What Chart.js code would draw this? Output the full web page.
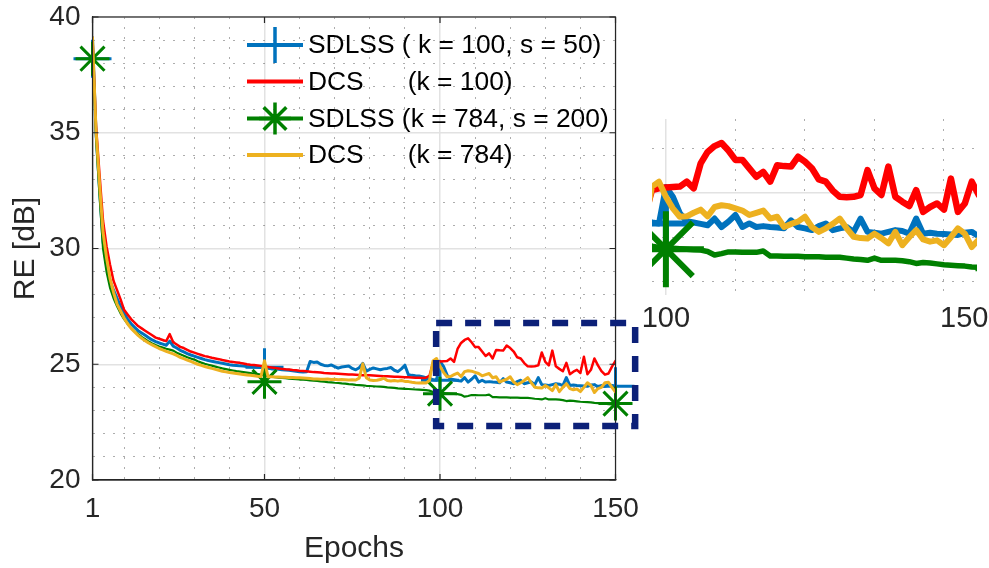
<!DOCTYPE html>
<html><head><meta charset="utf-8">
<script src="https://cdn.jsdelivr.net/npm/chart.js@4.4.1/dist/chart.umd.min.js"></script>
<style>
html,body{margin:0;padding:0;background:#fff;overflow:hidden;}
#wrap{position:relative;width:989px;height:568px;background:#fff;}
#main{position:absolute;left:0;top:0;}
#inset{position:absolute;left:640px;top:100px;}
#lbl150{position:absolute;left:940px;top:303px;font:29px "Liberation Sans",Arial,Helvetica,sans-serif;line-height:29px;color:#262626;}
</style></head><body>
<div id="wrap">
<canvas id="main" width="989" height="568"></canvas>
<canvas id="inset" width="349" height="240"></canvas>
<div id="lbl150">150</div>
</div>
<script>
// ---------------- DATA ----------------
const epochs = [1,2,3,4,5,6,7,8,9,10,11,12,13,14,15,16,17,18,19,20,21,22,23,24,25,26,27,28,29,30,31,32,33,34,35,36,37,38,39,40,41,42,43,44,45,46,47,48,49,50,51,52,53,54,55,56,57,58,59,60,61,62,63,64,65,66,67,68,69,70,71,72,73,74,75,76,77,78,79,80,81,82,83,84,85,86,87,88,89,90,91,92,93,94,95,96,97,98,99,100,101,102,103,104,105,106,107,108,109,110,111,112,113,114,115,116,117,118,119,120,121,122,123,124,125,126,127,128,129,130,131,132,133,134,135,136,137,138,139,140,141,142,143,144,145,146,147,148,149,150];

const seriesNames = ['SDLSS ( k = 100, s = 50)', 'DCS      (k = 100)', 'SDLSS (k = 784, s = 200)', 'DCS      (k = 784)'];

const sdlss100 = [39.1,35.0,32.6,30.3,29.3,28.6,28.2,27.85,27.5,27.2,26.95,26.75,26.6,26.45,26.35,26.25,26.15,26.05,25.98,25.92,25.87,25.82,26.0,25.78,25.7,25.6,25.53,25.46,25.4,25.35,25.3,25.25,25.2,25.16,25.13,25.1,25.07,25.04,25.01,24.98,24.96,24.95,24.93,24.92,24.9,24.89,24.88,24.87,24.86,24.85,24.83,24.8,24.79,24.78,24.76,24.75,24.74,24.72,24.7,24.68,24.67,24.68,25.12,25.08,25.1,25.0,24.95,24.93,24.97,24.9,24.83,24.88,24.9,24.92,24.82,24.76,24.85,25.04,24.7,24.78,24.84,24.8,24.76,24.8,24.82,24.86,24.74,24.68,24.8,24.96,24.55,24.52,24.5,24.49,24.46,24.42,24.4,24.33,24.31,25.13,24.91,24.54,24.36,24.33,24.3,24.27,24.42,24.23,24.35,24.5,24.23,24.31,24.23,24.25,24.23,24.22,24.2,24.38,24.23,24.2,24.16,24.25,24.31,24.16,24.2,24.23,24.12,24.42,24.12,24.1,24.08,24.12,24.16,24.14,24.08,24.42,24.08,24.1,24.08,24.07,24.06,24.05,24.1,24.12,24.02,24.08,24.05,24.1,24.08,24.05];

const dcs100 = [39.1,35.3,33.2,31.2,30.1,29.3,28.6,28.2,27.8,27.35,27.15,26.95,26.8,26.65,26.55,26.45,26.35,26.25,26.15,26.1,26.05,26.0,26.3,25.95,25.85,25.75,25.7,25.62,25.55,25.5,25.45,25.4,25.35,25.32,25.28,25.25,25.22,25.18,25.15,25.12,25.1,25.08,25.06,25.03,25.0,24.98,24.97,24.95,24.93,24.9,24.88,24.86,24.84,24.82,24.8,24.78,24.77,24.75,24.74,24.72,24.71,24.7,24.68,24.66,24.65,24.64,24.62,24.61,24.6,24.6,24.59,24.58,24.57,24.56,24.56,24.55,24.54,24.53,24.52,24.52,24.51,24.5,24.49,24.48,24.48,24.47,24.46,24.46,24.45,24.44,24.44,24.43,24.42,24.42,24.41,24.42,24.5,25.06,25.1,25.12,25.13,25.14,25.25,25.1,25.66,25.92,26.05,26.12,25.95,25.74,25.74,25.55,25.36,25.47,25.25,25.62,25.6,25.59,25.81,25.7,25.55,25.3,25.25,25.05,24.91,24.9,24.91,24.95,25.51,25.1,24.95,25.59,24.91,24.8,24.7,25.06,24.57,24.68,24.76,24.62,25.32,24.57,24.76,25.25,24.95,24.7,24.55,24.6,24.9,25.15];

const sdlss784 = [39.1,34.8,32.3,30.0,29.0,28.3,27.85,27.5,27.2,26.95,26.75,26.57,26.42,26.3,26.18,26.08,25.98,25.9,25.83,25.77,25.72,25.67,25.63,25.59,25.5,25.43,25.37,25.3,25.25,25.2,25.13,25.07,25.02,24.98,24.94,24.9,24.86,24.82,24.79,24.76,24.73,24.7,24.68,24.66,24.64,24.62,24.6,24.58,24.55,24.5,24.48,24.46,24.44,24.42,24.41,24.4,24.38,24.37,24.36,24.34,24.33,24.32,24.3,24.29,24.28,24.26,24.25,24.23,24.22,24.2,24.19,24.17,24.16,24.14,24.13,24.11,24.1,24.09,24.07,24.06,24.05,24.04,24.03,24.02,24.0,23.99,23.98,23.96,23.95,23.94,23.93,23.92,23.91,23.9,23.89,23.88,23.86,23.8,23.77,23.75,23.75,23.74,23.73,23.72,23.71,23.68,23.6,23.63,23.67,23.67,23.66,23.66,23.66,23.69,23.58,23.58,23.57,23.57,23.57,23.56,23.56,23.56,23.55,23.55,23.55,23.53,23.51,23.5,23.48,23.53,23.48,23.48,23.48,23.47,23.45,23.41,23.43,23.42,23.4,23.38,23.37,23.36,23.35,23.33,23.32,23.31,23.3,23.28,23.27,23.26];

const dcs784 = [39.1,35.1,32.8,30.7,29.6,28.7,28.1,27.6,27.3,27.0,26.75,26.55,26.4,26.25,26.12,26.02,25.92,25.84,25.76,25.68,25.62,25.56,25.5,25.45,25.38,25.3,25.24,25.18,25.12,25.06,25.0,24.95,24.9,24.86,24.82,24.78,24.74,24.7,24.67,24.64,24.62,24.6,24.58,24.56,24.54,24.52,24.5,24.48,24.47,25.15,24.46,24.46,24.45,24.45,24.44,24.44,24.43,24.43,24.42,24.42,24.41,24.4,24.38,24.36,24.36,24.35,24.35,24.36,24.34,24.35,24.33,24.34,24.33,24.32,24.33,24.32,24.4,25.02,24.42,24.32,24.3,24.31,24.34,24.4,24.3,24.28,24.3,24.27,24.3,24.26,24.25,24.22,24.2,24.19,24.2,24.19,24.3,25.14,25.25,24.91,24.65,24.46,24.47,24.55,24.62,24.47,24.68,24.72,24.7,24.65,24.6,24.5,24.55,24.6,24.42,24.46,24.23,24.3,24.35,24.46,24.23,24.12,24.2,24.3,24.42,24.2,24.01,23.98,23.97,24.08,23.98,23.86,24.12,23.82,24.0,24.16,23.95,23.9,23.93,23.82,24.0,24.2,24.08,23.78,23.95,24.0,24.2,24.22,24.0,23.8];

const markerEpochs = [1, 50, 100, 150];
const sdlss100Markers = [38.2, 24.87, 24.31, 24.05];
const sdlss784Markers = [38.2, 24.24, 23.73, 23.3];

const xTicks = [1, 50, 100, 150];
const xMinorTicks = [10, 20, 30, 40, 60, 70, 80, 90, 110, 120, 130, 140];
const yTicks = [20, 25, 30, 35, 40];
const yMinorTicks = [21,22,23,24,26,27,28,29,31,32,33,34,36,37,38,39];
const xTitle = 'Epochs';
const yTitle = 'RE [dB]';

// zoomed region (data units) shown in the inset
const zoomEpochs = [98.9, 155.6];
const zoomDb = [22.33, 26.78];
const insetEpochs = [98, 144.75];
const insetDb = [22.7, 26.66];
const insetXTicks = [100];
const insetXMinor = [110, 120, 130, 140];
const insetYTicks = [25];
const insetYMinor = [23, 24, 26];

// ---------------- STYLE ----------------
const FONT = '"Liberation Sans", Arial, Helvetica, sans-serif';
const AX = '#262626';
const MAJ = '#e2e2e2';
const MINC = 'rgba(60,60,60,0.42)';
const DOT = [2, 8];
const C_BLUE = '#0072BD', C_RED = '#FF0000', C_GREEN = '#008000', C_YEL = '#EDB120';

const pts = vals => epochs.map((e, i) => ({x: e, y: vals[i]}));
const mpts = vals => markerEpochs.map((e, i) => ({x: e, y: vals[i]}));

function lineDs(label, vals, color, w, order) {
  return {label, data: pts(vals), borderColor: color, backgroundColor: color, borderWidth: w,
    pointRadius: 0, pointHoverRadius: 0, tension: 0, fill: false, order,
    borderJoinStyle: 'round', borderCapStyle: 'round'};
}
function markDs(vals, color, style, r, w, order, clip) {
  const d = {label: '', data: mpts(vals), showLine: false, pointStyle: style, pointRadius: r, pointHoverRadius: r,
    pointBorderColor: color, pointBackgroundColor: color, pointBorderWidth: w, borderColor: color, order};
  if (clip !== undefined) d.clip = clip;
  return d;
}
const tickList = arr => s => { s.ticks = arr.map(v => ({value: v})); };
const fixSize = (w, h) => s => {
  if (w !== null) s.width = w;
  if (h !== null) s.height = h;
  s.paddingTop = 0; s.paddingBottom = 0; s.paddingLeft = 0; s.paddingRight = 0;
};

// ---------------- MAIN CHART ----------------
const mainDecor = {
  id: 'mainDecor',
  afterDraw(chart) {
    const ctx = chart.ctx, a = chart.chartArea;
    const xs = chart.scales.x, ys = chart.scales.y;
    ctx.save();
    ctx.strokeStyle = AX; ctx.lineWidth = 1.2; ctx.setLineDash([]);
    ctx.strokeRect(a.left, a.top, a.right - a.left, a.bottom - a.top);
    ctx.beginPath();
    xTicks.forEach(v => { const p = xs.getPixelForValue(v);
      ctx.moveTo(p, a.bottom); ctx.lineTo(p, a.bottom - 6);
      ctx.moveTo(p, a.top); ctx.lineTo(p, a.top + 6); });
    yTicks.forEach(v => { const p = ys.getPixelForValue(v);
      ctx.moveTo(a.left, p); ctx.lineTo(a.left + 6, p);
      ctx.moveTo(a.right, p); ctx.lineTo(a.right - 6, p); });
    ctx.stroke();
    const x0 = xs.getPixelForValue(zoomEpochs[0]), x1 = xs.getPixelForValue(zoomEpochs[1]);
    const y0 = ys.getPixelForValue(zoomDb[1]), y1 = ys.getPixelForValue(zoomDb[0]);
    ctx.strokeStyle = '#0c2078'; ctx.lineWidth = 6.5; ctx.setLineDash([16, 13]);
    ctx.strokeRect(x0, y0, x1 - x0, y1 - y0);
    ctx.setLineDash([]);
    const rows = [45, 81.5, 118.5, 155];
    const lx0 = 247, lx1 = 303, tx = 308;
    const ds = chart.data.datasets;
    const legendItems = [
      {d: ds[0], marker: {pointStyle: 'cross', radius: 18, borderWidth: 3.5}},
      {d: ds[1], marker: null},
      {d: ds[2], marker: {pointStyle: 'star', radius: 16, borderWidth: 3.5}},
      {d: ds[3], marker: null}
    ];
    legendItems.forEach((it, i) => {
      const y = rows[i];
      ctx.strokeStyle = it.d.borderColor; ctx.fillStyle = it.d.borderColor;
      ctx.lineWidth = 4; ctx.lineCap = 'butt';
      ctx.beginPath(); ctx.moveTo(lx0, y); ctx.lineTo(lx1, y); ctx.stroke();
      if (it.marker) {
        ctx.lineWidth = it.marker.borderWidth;
        Chart.helpers.drawPoint(ctx, {pointStyle: it.marker.pointStyle, radius: it.marker.radius, borderWidth: it.marker.borderWidth, rotation: 0}, (lx0 + lx1) / 2, y);
      }
      ctx.fillStyle = '#000'; ctx.font = '26.4px ' + FONT; ctx.textBaseline = 'middle'; ctx.textAlign = 'left';
      ctx.fillText(it.d.label, tx, y + 1);
    });
    ctx.restore();
  }
};

new Chart(document.getElementById('main'), {
  type: 'line',
  data: {datasets: [
    lineDs(seriesNames[0], sdlss100, C_BLUE, 3, 3),
    lineDs(seriesNames[1], dcs100, C_RED, 2.5, 2),
    lineDs(seriesNames[2], sdlss784, C_GREEN, 2.2, 1),
    lineDs(seriesNames[3], dcs784, C_YEL, 3, 0),
    markDs(sdlss100Markers, C_BLUE, 'cross', 19, 3, 3, false),
    markDs(sdlss784Markers, C_GREEN, 'star', 17, 3, 1, false)
  ]},
  options: {
    responsive: false, animation: false, devicePixelRatio: 1,
    layout: {autoPadding: false, padding: {top: 17, right: 373.5, left: 0, bottom: 0}},
    plugins: {legend: {display: false}, tooltip: {enabled: false}},
    events: [],
    scales: {
      x: {type: 'linear', min: 1, max: 150, position: 'bottom',
        afterBuildTicks: tickList(xTicks), afterFit: fixSize(null, 88),
        ticks: {font: {family: FONT, size: 28}, color: AX, padding: 12, maxRotation: 0, autoSkip: false, callback: v => String(v)},
        grid: {color: MAJ, lineWidth: 1.5, drawTicks: false},
        border: {display: true, color: AX, width: 1.2},
        title: {display: true, text: xTitle, font: {family: FONT, size: 30}, color: AX, padding: {top: 0, bottom: 1}}},
      xm: {type: 'linear', min: 1, max: 150, position: 'bottom',
        afterBuildTicks: tickList(xMinorTicks), afterFit: fixSize(null, 0),
        ticks: {display: false}, grid: {color: MINC, lineWidth: 1, drawTicks: false},
        border: {display: false, dash: DOT}},
      y: {type: 'linear', min: 20, max: 40, position: 'left',
        afterBuildTicks: tickList(yTicks), afterFit: fixSize(92.5, null),
        ticks: {font: {family: FONT, size: 28}, color: AX, padding: 12, callback: v => String(v)},
        grid: {color: MAJ, lineWidth: 1.5, drawTicks: false},
        border: {display: true, color: AX, width: 1.2},
        title: {display: true, text: yTitle, font: {family: FONT, size: 30}, color: AX, padding: {top: 8, bottom: 0}}},
      ym: {type: 'linear', min: 20, max: 40, position: 'left',
        afterBuildTicks: tickList(yMinorTicks), afterFit: fixSize(0, null),
        ticks: {display: false}, grid: {color: MINC, lineWidth: 1, drawTicks: false},
        border: {display: false, dash: DOT}}
    }
  },
  plugins: [mainDecor]
});

// ---------------- INSET CHART ----------------
new Chart(document.getElementById('inset'), {
  type: 'line',
  data: {datasets: [
    lineDs(seriesNames[0], sdlss100, C_BLUE, 6, 3),
    lineDs(seriesNames[1], dcs100, C_RED, 6.5, 2),
    lineDs(seriesNames[2], sdlss784, C_GREEN, 5.5, 1),
    lineDs(seriesNames[3], dcs784, C_YEL, 6, 0),
    markDs(sdlss100Markers, C_BLUE, 'cross', 24, 6, 3),
    markDs(sdlss784Markers, C_GREEN, 'star', 38, 6, 1)
  ]},
  options: {
    responsive: false, animation: false, devicePixelRatio: 1,
    layout: {autoPadding: false, padding: {top: 19, right: 12, left: 0, bottom: 0}},
    plugins: {legend: {display: false}, tooltip: {enabled: false}},
    events: [],
    scales: {
      x: {type: 'linear', min: insetEpochs[0], max: insetEpochs[1], position: 'bottom',
        afterBuildTicks: tickList(insetXTicks), afterFit: fixSize(null, 45),
        ticks: {font: {family: FONT, size: 29}, color: AX, padding: 7, maxRotation: 0, autoSkip: false, callback: v => String(v)},
        grid: {color: MAJ, lineWidth: 1.5, drawTicks: false},
        border: {display: false}},
      xm: {type: 'linear', min: insetEpochs[0], max: insetEpochs[1], position: 'bottom',
        afterBuildTicks: tickList(insetXMinor), afterFit: fixSize(null, 0),
        ticks: {display: false}, grid: {color: MINC, lineWidth: 1, drawTicks: false},
        border: {display: false, dash: DOT}},
      y: {type: 'linear', min: insetDb[0], max: insetDb[1], position: 'left',
        afterBuildTicks: tickList(insetYTicks), afterFit: fixSize(12, null),
        ticks: {display: false}, grid: {color: MAJ, lineWidth: 1.5, drawTicks: false},
        border: {display: false}},
      ym: {type: 'linear', min: insetDb[0], max: insetDb[1], position: 'left',
        afterBuildTicks: tickList(insetYMinor), afterFit: fixSize(0, null),
        ticks: {display: false}, grid: {color: MINC, lineWidth: 1, drawTicks: false},
        border: {display: false, dash: DOT}}
    }
  }
});
</script>
</body></html>
